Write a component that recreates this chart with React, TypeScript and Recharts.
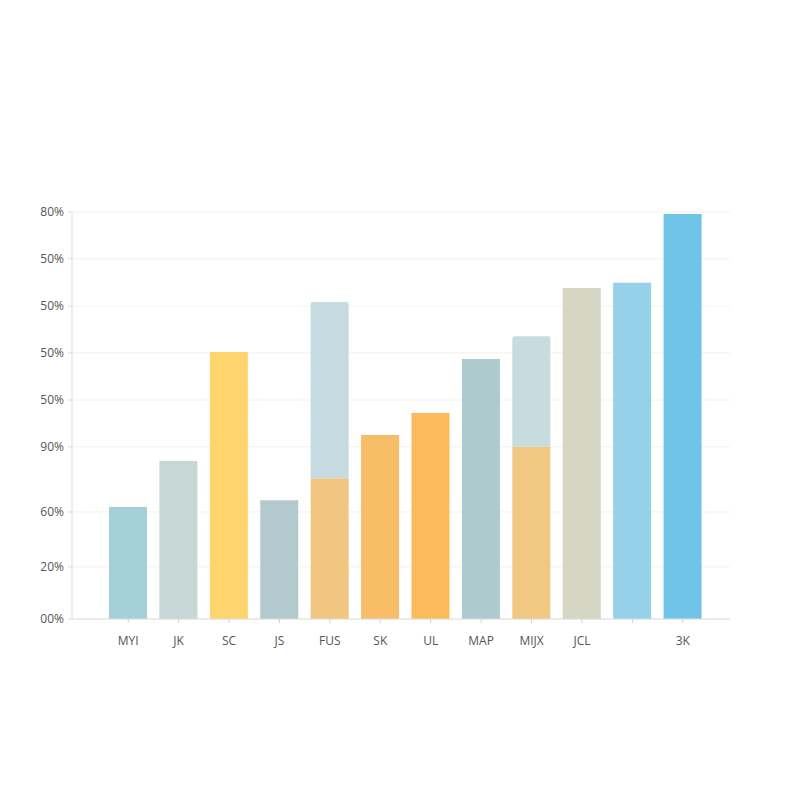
import React from "react";
import { BarChart, Bar, XAxis, YAxis, CartesianGrid, Cell } from "recharts";

const categories = ["MYI", "JK", "SC", "JS", "FUS", "SK", "UL", "MAP", "MIJX", "JCL", "", "3K"];
const baseValues = [27.5, 38.8, 65.6, 29.2, 34.6, 45.2, 50.6, 63.9, 42.3, 81.3, 82.6, 99.5];
const topValues = [0, 0, 0, 0, 43.3, 0, 0, 0, 27.2, 0, 0, 0];
const baseColors = ["#a6d0d9", "#c6d7d6", "#fdd46e", "#b2cacd", "#f1c680", "#f8bd67", "#fbbb5d", "#aecacf", "#f1c881", "#d5d6c3", "#95d1e9", "#6fc4e8"];
const topColors = ["#c5dadf", "#c5dadf", "#c5dadf", "#c5dadf", "#c5dbe1", "#c5dadf", "#c5dadf", "#c5dadf", "#c8dcdf", "#c5dadf", "#c5dadf", "#c5dadf"];
const yTickValues = [0, 12.8, 26.3, 42.3, 53.8, 65.4, 76.9, 88.5, 100];
const yTickLabels = ["00%", "20%", "60%", "90%", "50%", "50%", "50%", "50%", "80%"];

const data = categories.map((name, i) => ({ name, base: baseValues[i], top: topValues[i] }));

const font = "'Open Sans', 'Noto Sans', sans-serif";

export default function App() {
  return (
    <div style={{ width: 784, height: 700, background: "#fff" }}>
      <BarChart
        width={784}
        height={700}
        data={data}
        margin={{ top: 204, right: 62, left: 0, bottom: 59 }}
        barCategoryGap={0}
      >
        <CartesianGrid vertical={false} stroke="#f4f2e4" />
        <XAxis
          dataKey="name"
          height={30}
          padding={{ left: 31, right: 22 }}
          axisLine={{ stroke: "#dcdcdc" }}
          tickLine={{ stroke: "#d0d0d0" }}
          tickSize={4}
          tick={{ fill: "#555", fontSize: 12, fontFamily: font }}
          tickMargin={13}
          interval={0}
        />
        <YAxis
          width={64}
          domain={[0, 100]}
          ticks={yTickValues}
          tickFormatter={(v: number) => yTickLabels[yTickValues.indexOf(v)]}
          axisLine={{ stroke: "#dcdcdc" }}
          tickLine={{ stroke: "#dcdcdc" }}
          tickSize={4}
          tick={{ fill: "#555", fontSize: 12, fontFamily: font }}
          tickMargin={4}
          interval={0}
        />
        <Bar dataKey="base" stackId="a" barSize={38} isAnimationActive={false}>
          {data.map((d, i) => (
            <Cell key={i} fill={baseColors[i]} />
          ))}
        </Bar>
        <Bar dataKey="top" stackId="a" barSize={38} isAnimationActive={false} radius={[2, 2, 0, 0]}>
          {data.map((d, i) => (
            <Cell key={i} fill={topColors[i]} />
          ))}
        </Bar>
      </BarChart>
    </div>
  );
}
